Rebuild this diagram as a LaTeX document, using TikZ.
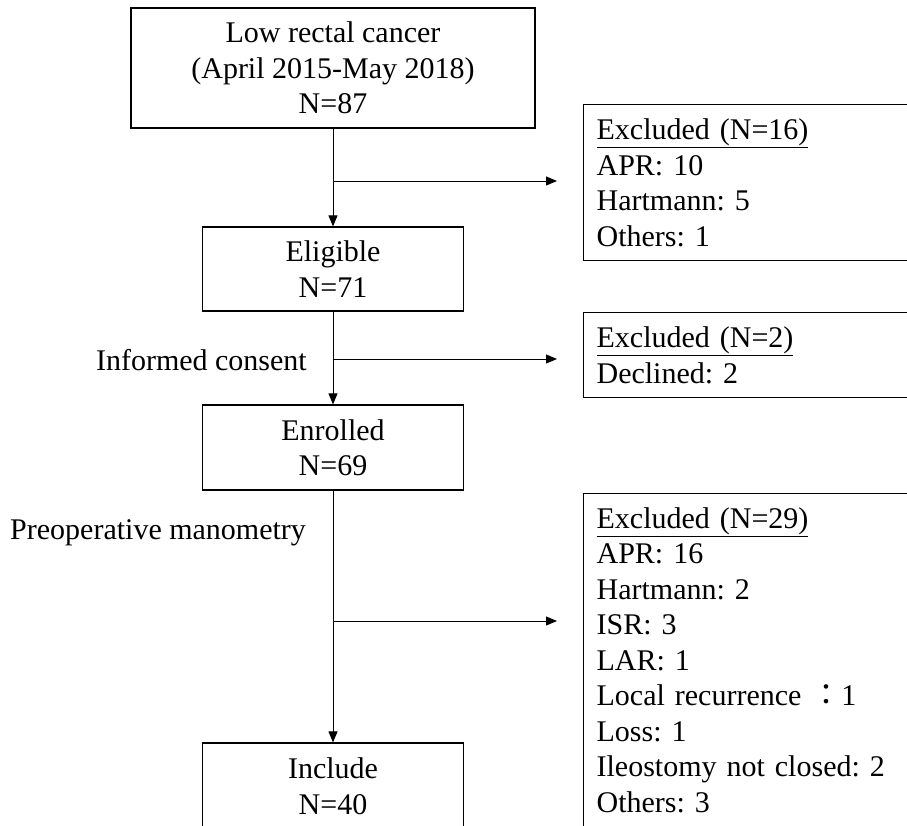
\documentclass[tikz,border=0pt]{standalone}
\usepackage{fontspec}
\setmainfont{Liberation Serif}
\newfontfamily\cjk{Noto Sans CJK TC}
\usetikzlibrary{arrows.meta}
\frenchspacing

\begin{document}
\begin{tikzpicture}[x=1pt,y=-1pt,>={Triangle[length=11pt,width=9pt]},%
every node/.style={rectangle, inner sep=0pt,
font=\fontsize{30}{35.5}\selectfont},
box/.style={draw, line width=1.2pt, align=center,
minimum width=261pt, minimum height=85pt},
exbox/.style={draw, line width=1.2pt, anchor=north west, align=left,
text width=334pt, inner xsep=13pt}]
\useasboundingbox (0,0) rectangle (907,825);
\clip (0,0) rectangle (907,825);
\node (cancer) at (333,68) [box, minimum width=404pt, minimum height=120pt]
{Low rectal cancer\\(April 2015-May 2018)\\N=87};
\node (eligible) at (333,269) [box, minimum height=84pt] {Eligible\\N=71};
\node (enrolled) at (333,447.5) [box] {Enrolled\\N=69};
\node (include) at (333,786) [box, minimum height=86pt] {Include\\N=40};
\node (ex1) at (583,104) [exbox, minimum height=156pt]
{\underline{Excluded (N=16)}\\APR: 10\\Hartmann: 5\\Others: 1};
\node (ex2) at (583,312) [exbox, minimum height=85pt]
{\underline{Excluded (N=2)}\\Declined: 2};
\node (ex3) at (583,493) [exbox, minimum height=333pt]
{\underline{Excluded (N=29)}\\APR: 16\\Hartmann: 2\\ISR: 3\\LAR: 1\\
Local recurrence {\cjk ：}1\\Loss: 1\\Ileostomy not closed: 2\\Others: 3};
\node (consent) at (307,360) [anchor=east] {Informed consent};
\node (mano) at (10,533) [anchor=west] {Preoperative manometry};
% branch points on the main line
\coordinate (split1) at (333,181); \coordinate (end1) at (557,181);
\coordinate (split2) at (333,359); \coordinate (end2) at (557,359);
\coordinate (split3) at (333,621); \coordinate (end3) at (557,621);
\draw[->, line width=1pt] (cancer.south) -- (eligible.north);
\draw[->, line width=1pt] (eligible.south) -- (enrolled.north);
\draw[->, line width=1pt] (enrolled.south) -- (include.north);
\draw[->, line width=1pt] (split1) -- (end1);
\draw[->, line width=1pt] (split2) -- (end2);
\draw[->, line width=1pt] (split3) -- (end3);
\end{tikzpicture}
\end{document}
